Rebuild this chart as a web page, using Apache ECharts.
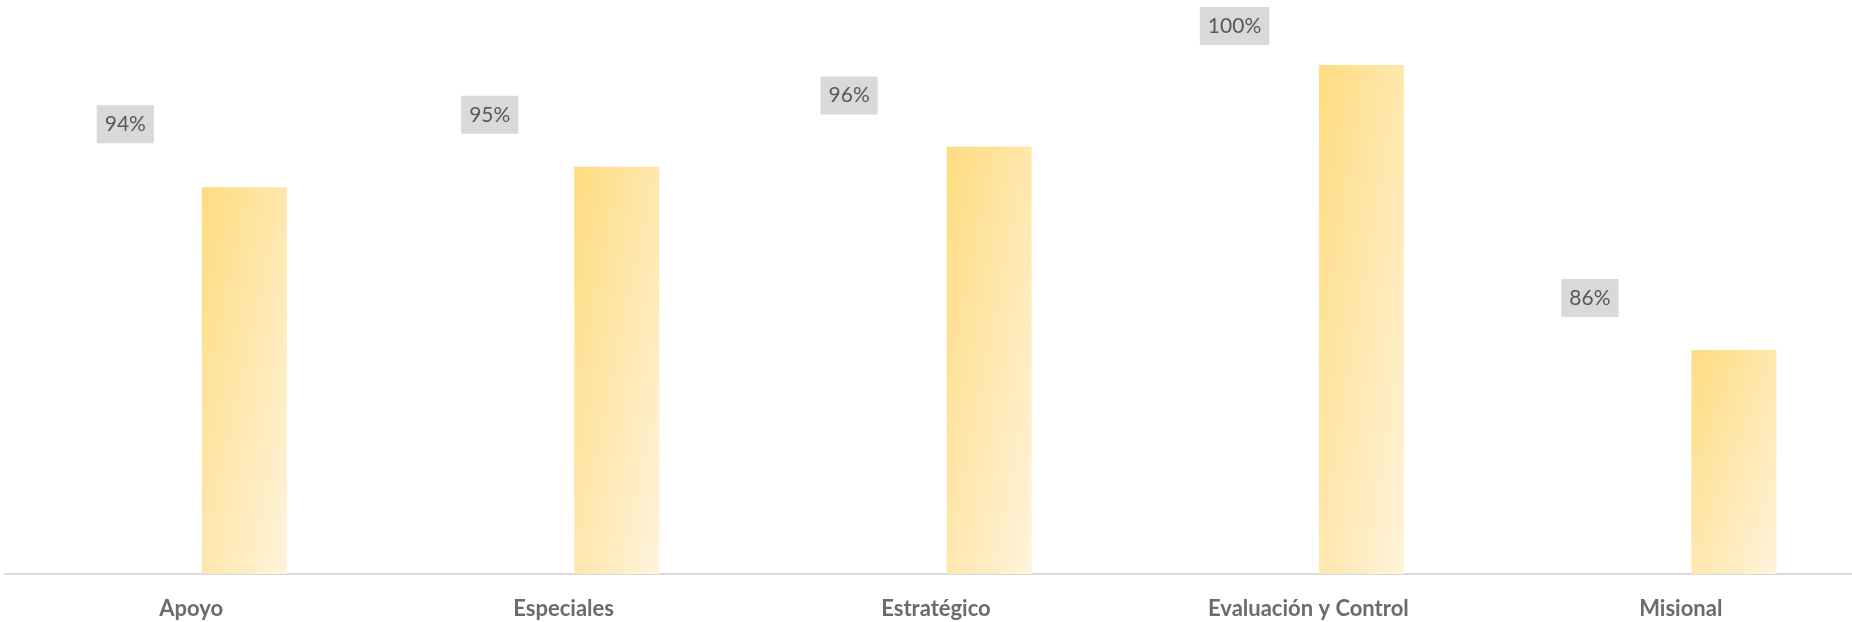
<!DOCTYPE html>
<html>
<head>
<meta charset="utf-8">
<style>
  html, body { margin: 0; padding: 0; background: #ffffff; }
  #chart { width: 1852px; height: 622px; }
</style>
<script src="https://cdn.jsdelivr.net/npm/echarts@6/dist/echarts.min.js"></script>
</head>
<body>
<div id="chart"></div>
<script>
// ---- data ----
const categories = ['Apoyo', 'Especiales', 'Estratégico', 'Evaluación y Control', 'Misional'];
const values = [94, 95, 96, 100, 86];
const valueLabels = ['94%', '95%', '96%', '100%', '86%'];

// ---- layout (manual label placement, as in the original) ----
const labelOffsets = [[-119, -44], [-127, -33], [-140, -32], [-127, -20], [-144, -33]];
const BAR_W = 85;
const Y_MIN = 75, Y_MAX = 103;

const chart = echarts.init(document.getElementById('chart'));

// Gradient whose iso-lines follow the bar's box diagonal (shape-scaled, like Excel)
function shapeGradient(w, h) {
  const x2 = 2 / (1 + (w * w) / (h * h));
  const y2 = 2 / (1 + (h * h) / (w * w));
  return new echarts.graphic.LinearGradient(0, 0, x2, y2, [
    { offset: 0, color: '#FFDC80' },
    { offset: 1, color: '#FEF3DC' }
  ]);
}

function buildData(colors) {
  return values.map((v, i) => ({
    value: v,
    itemStyle: colors ? { color: colors[i] } : undefined,
    label: {
      show: true,
      position: 'top',
      distance: 0,
      offset: labelOffsets[i],
      formatter: valueLabels[i],
      color: '#595959',
      fontFamily: 'Lato',
      fontSize: 21,
      lineHeight: 22,
      backgroundColor: '#D9D9D9',
      padding: [8, 8, 8, 8]
    }
  }));
}

chart.setOption({
  animation: false,
  backgroundColor: '#ffffff',
  grid: { left: 5, width: 1862, top: 4, bottom: 48, containLabel: false, outerBoundsMode: 'none' },
  xAxis: {
    type: 'category',
    data: categories,
    axisLine: { show: true, lineStyle: { color: '#D9D9D9', width: 2 } },
    axisTick: { show: false },
    axisLabel: {
      color: '#6B6B6B',
      fontFamily: 'Lato',
      fontWeight: 'bold',
      fontSize: 22,
      margin: 24
    }
  },
  yAxis: {
    type: 'value',
    min: Y_MIN,
    max: Y_MAX,
    show: false,
    splitLine: { show: false }
  },
  series: [
    {
      type: 'bar',
      barWidth: BAR_W,
      barGap: '25%',
      data: categories.map(() => null),
      itemStyle: { color: 'transparent' },
      silent: true
    },
    {
      type: 'bar',
      barWidth: BAR_W,
      data: buildData(null),
      itemStyle: { color: '#FFE3A0' }
    }
  ]
});

// per-bar gradient computed from the bar heights given by the axis scale
const colors = values.map((v, i) => {
  const top = chart.convertToPixel({ gridIndex: 0 }, [i, v])[1];
  const base = chart.convertToPixel({ gridIndex: 0 }, [i, Y_MIN])[1];
  return shapeGradient(BAR_W, Math.max(1, base - top));
});
chart.setOption({ series: [{}, { data: buildData(colors) }] });
</script>
</body>
</html>
